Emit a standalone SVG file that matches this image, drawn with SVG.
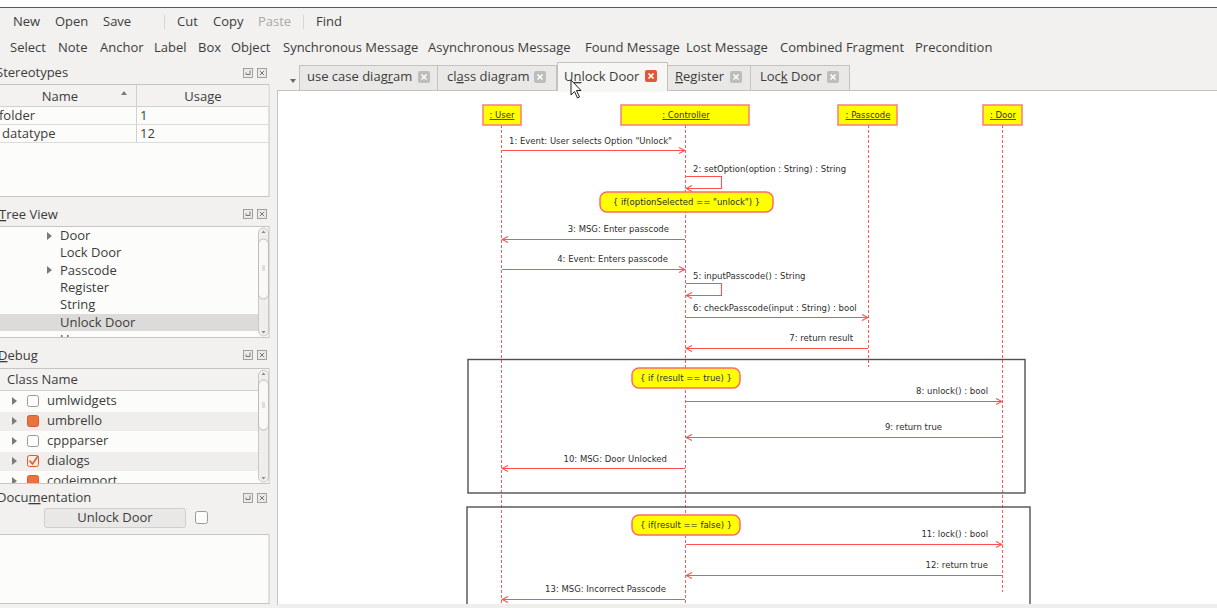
<svg xmlns="http://www.w3.org/2000/svg" width="1217" height="608" viewBox="0 0 1217 608">
<defs>
<style>
.ui{font-family:"Open Sans","DejaVu Sans",sans-serif;font-size:13px;fill:#3c3c3c}
.dim{fill:#a9a9a7}
.hd{font-family:"Open Sans","DejaVu Sans",sans-serif;font-size:13px;fill:#3c3c3c;text-anchor:middle}
.lbl{font-family:"DejaVu Sans",sans-serif;font-size:8.5px;fill:#2e2e2e}
.end{text-anchor:end}
.mid{text-anchor:middle}
.head{fill:#ffff00;stroke:#ff7b7b;stroke-width:1.5}
.htxt{font-family:"DejaVu Sans",sans-serif;font-size:8.5px;fill:#333;text-anchor:middle;text-decoration:underline}
.life{stroke:#ff5a5a;stroke-width:1;stroke-dasharray:3 2;fill:none}
.msg{stroke:#ff5050;stroke-width:1.1;fill:none}
.guard{fill:#ffff00;stroke:#ff6a6a;stroke-width:1.5}
.frag{fill:none;stroke:#505050;stroke-width:1.4}
.box{fill:#fcfcfb;stroke:#c6c5c3}
.ico{fill:#ecebe9;stroke:#8c8c8a;stroke-width:0.8}
.icl{stroke:#6a6a68;stroke-width:0.9;fill:none}
.tab{fill:#e9e8e6;stroke:#c3c2c0}
.tabx{fill:#bdbdbb}
.tri{fill:#7a7a78}
.cb{fill:#fdfdfd;stroke:#9a9a98}
.cbo{fill:#ea733d;stroke:#d35f2c}
.u{text-decoration:underline}
</style>
<marker id="open" markerWidth="8" markerHeight="8" refX="7" refY="4" orient="auto" markerUnits="userSpaceOnUse">
<path d="M1,1 L7,4 L1,7" fill="none" stroke="#ff5050" stroke-width="1.1"/>
</marker>
<clipPath id="treeClip"><rect x="0" y="227" width="258" height="110"/></clipPath>
<clipPath id="dbgClip"><rect x="0" y="391" width="258" height="92"/></clipPath>
<clipPath id="canvasClip"><rect x="278" y="91" width="939" height="513"/></clipPath>
<symbol id="dock" viewBox="0 0 24 10">
<rect class="ico" x="0.5" y="0.5" width="9" height="9"/>
<path class="icl" d="M3,6.5 h4 v-4 M3,6.5 v-2"/>
<rect class="ico" x="14.5" y="0.5" width="9" height="9"/>
<path class="icl" d="M16.8,2.8 L21.2,7.2 M21.2,2.8 L16.8,7.2"/>
</symbol>
<symbol id="xbtn" viewBox="0 0 12 12">
<rect x="0" y="0" width="12" height="12" rx="2"/>
<path d="M3.5,3.5 L8.5,8.5 M8.5,3.5 L3.5,8.5" stroke="#fff" stroke-width="1.6"/>
</symbol>
</defs>

<!-- window background -->
<rect x="0" y="0" width="1217" height="608" fill="#f2f1f0"/>
<rect x="0" y="0" width="1217" height="7" fill="#ffffff"/>
<line x1="0" y1="7.5" x2="1217" y2="7.5" stroke="#5a5a5a" stroke-width="1"/>

<!-- main toolbar -->
<g id="toolbar">
<text class="ui" x="13" y="26">New</text>
<text class="ui" x="55" y="26">Open</text>
<text class="ui" x="103" y="26">Save</text>
<line x1="164.5" y1="15" x2="164.5" y2="29" stroke="#d6d5d3"/>
<text class="ui" x="177" y="26">Cut</text>
<text class="ui" x="213" y="26">Copy</text>
<text class="ui dim" x="258" y="26">Paste</text>
<line x1="303.5" y1="15" x2="303.5" y2="29" stroke="#d6d5d3"/>
<text class="ui" x="316" y="26">Find</text>
</g>

<!-- diagram tool palette -->
<g id="palette">
<text class="ui" x="10" y="52">Select</text>
<text class="ui" x="58" y="52">Note</text>
<text class="ui" x="100" y="52">Anchor</text>
<text class="ui" x="154" y="52">Label</text>
<text class="ui" x="198" y="52">Box</text>
<text class="ui" x="231" y="52">Object</text>
<text class="ui" x="283" y="52">Synchronous Message</text>
<text class="ui" x="428" y="52">Asynchronous Message</text>
<text class="ui" x="585" y="52">Found Message</text>
<text class="ui" x="686" y="52">Lost Message</text>
<text class="ui" x="780" y="52">Combined Fragment</text>
<text class="ui" x="915" y="52">Precondition</text>
</g>

<!-- Stereotypes dock -->
<g id="stereotypes">
<text class="ui" x="-4" y="77">Stereotypes</text>
<use href="#dock" x="243" y="68" width="24" height="10"/>
<rect class="box" x="-1" y="84.5" width="270" height="112"/>
<rect x="0" y="85" width="268.5" height="21.5" fill="#f3f2f1"/>
<line x1="0" y1="106.5" x2="269" y2="106.5" stroke="#d2d1cf"/>
<line x1="136.5" y1="85" x2="136.5" y2="142" stroke="#d2d1cf"/>
<text class="hd" x="60" y="101">Name</text>
<path class="tri" d="M121,95 L127,95 L124,91 Z"/>
<text class="hd" x="203" y="101">Usage</text>
<line x1="0" y1="124.5" x2="269" y2="124.5" stroke="#dedddb"/>
<line x1="0" y1="142.5" x2="269" y2="142.5" stroke="#dedddb"/>
<text class="ui" x="-1" y="120">folder</text>
<text class="ui" x="2" y="138">datatype</text>
<text class="ui" x="140" y="120">1</text>
<text class="ui" x="140" y="138">12</text>
</g>

<!-- Tree View dock -->
<g id="treeview">
<text class="ui" x="-1" y="219"><tspan class="u">T</tspan>ree View</text>
<use href="#dock" x="243" y="209" width="24" height="10"/>
<rect class="box" x="-1" y="226.5" width="270" height="111"/>
<g clip-path="url(#treeClip)">
<rect x="0" y="314" width="258" height="17" fill="#dcdbd9"/>
<path class="tri" d="M47,232 L47,240 L52,236 Z"/>
<text class="ui" x="60" y="240">Door</text>
<text class="ui" x="60" y="257">Lock Door</text>
<path class="tri" d="M47,266 L47,274 L52,270 Z"/>
<text class="ui" x="60" y="275">Passcode</text>
<text class="ui" x="60" y="292">Register</text>
<text class="ui" x="60" y="309">String</text>
<text class="ui" x="60" y="327">Unlock Door</text>
<text class="ui" x="60" y="344">User</text>
</g>
<rect x="258.5" y="228" width="10" height="108" rx="5" fill="#efeeec" stroke="#c9c8c6"/>
<rect x="258.5" y="239" width="10" height="60" rx="5" fill="#f8f8f7" stroke="#bdbcba"/>
<path d="M261.5,233 L265.5,233 L263.5,230.5 Z" fill="#888"/>
<path d="M261.5,331 L265.5,331 L263.5,333.5 Z" fill="#888"/>
<path d="M262,266 h3 M262,268 h3 M262,270 h3" stroke="#c4c3c1"/>
</g>

<!-- Debug dock -->
<g id="debug">
<text class="ui" x="-2" y="360"><tspan class="u">D</tspan>ebug</text>
<use href="#dock" x="243" y="350" width="24" height="10"/>
<rect class="box" x="-1" y="368.5" width="270" height="115"/>
<rect x="0" y="369" width="258" height="21" fill="#f3f2f1"/>
<line x1="0" y1="390.5" x2="258" y2="390.5" stroke="#d2d1cf"/>
<text class="ui" x="7" y="384">Class Name</text>
<g clip-path="url(#dbgClip)">
<rect x="0" y="412" width="258" height="19" fill="#efeeec"/>
<rect x="0" y="452" width="258" height="19" fill="#efeeec"/>
<path class="tri" d="M12,397 L12,405 L17,401 Z"/>
<rect class="cb" x="27.5" y="395.5" width="11" height="11" rx="2"/>
<text class="ui" x="47" y="405">umlwidgets</text>
<path class="tri" d="M12,417 L12,425 L17,421 Z"/>
<rect class="cbo" x="27.5" y="415.5" width="11" height="11" rx="2"/>
<text class="ui" x="47" y="425">umbrello</text>
<path class="tri" d="M12,437 L12,445 L17,441 Z"/>
<rect class="cb" x="27.5" y="435.5" width="11" height="11" rx="2"/>
<text class="ui" x="47" y="445">cppparser</text>
<path class="tri" d="M12,457 L12,465 L17,461 Z"/>
<rect x="27.5" y="455.5" width="11" height="11" rx="2" fill="#fbeae2" stroke="#d35f2c"/>
<path d="M29.5,460.5 L32.5,464 L38,456" fill="none" stroke="#d35f2c" stroke-width="1.6"/>
<text class="ui" x="47" y="465">dialogs</text>
<path class="tri" d="M12,477 L12,485 L17,481 Z"/>
<rect class="cbo" x="27.5" y="475.5" width="11" height="11" rx="2"/>
<text class="ui" x="47" y="485">codeimport</text>
</g>
<rect x="258.5" y="370" width="10" height="112" rx="5" fill="#efeeec" stroke="#c9c8c6"/>
<rect x="258.5" y="380" width="10" height="50" rx="5" fill="#f8f8f7" stroke="#bdbcba"/>
<path d="M261.5,375 L265.5,375 L263.5,372.5 Z" fill="#888"/>
<path d="M261.5,477 L265.5,477 L263.5,479.5 Z" fill="#888"/>
<path d="M262,403 h3 M262,405 h3 M262,407 h3" stroke="#c4c3c1"/>
</g>

<!-- Documentation dock -->
<g id="documentation">
<text class="ui" x="-3" y="502">Docu<tspan class="u">m</tspan>entation</text>
<use href="#dock" x="243" y="493" width="24" height="10"/>
<rect x="44.5" y="508.5" width="141" height="19" rx="2" fill="#e9e8e6" stroke="#cfcecc"/>
<text class="hd" x="115" y="522">Unlock Door</text>
<rect class="cb" x="195.5" y="511.5" width="12" height="12" rx="2"/>
<rect class="box" x="-1" y="534.5" width="270" height="69"/>
</g>

<!-- document tabs -->
<g id="tabs">
<path d="M290,79 L296,79 L293,83 Z" fill="#6a6a68"/>
<rect class="tab" x="299.5" y="65.5" width="138" height="25"/>
<text class="ui" x="307" y="81">use case diag<tspan class="u">r</tspan>am</text>
<use href="#xbtn" x="418" y="71" width="12" height="12" class="tabx"/>
<rect class="tab" x="437.5" y="65.5" width="119" height="25"/>
<text class="ui" x="447" y="81">cl<tspan class="u">a</tspan>ss diagram</text>
<use href="#xbtn" x="534" y="71" width="12" height="12" class="tabx"/>
<rect class="tab" x="667.5" y="65.5" width="83" height="25"/>
<text class="ui" x="675" y="81"><tspan class="u">R</tspan>egister</text>
<use href="#xbtn" x="730" y="71" width="12" height="12" class="tabx"/>
<rect class="tab" x="750.5" y="65.5" width="99" height="25"/>
<text class="ui" x="760" y="81">Loc<tspan class="u">k</tspan> Door</text>
<use href="#xbtn" x="827" y="71" width="12" height="12" class="tabx"/>
<path d="M557.5,92 L557.5,62.5 L667.5,62.5 L667.5,92" fill="#f6f6f5" stroke="#c3c2c0"/>
<text class="ui" x="564" y="81">U<tspan class="u">n</tspan>lock Door</text>
<use href="#xbtn" x="645" y="70" width="12" height="12" fill="#e2573a"/>
</g>

<!-- drawing canvas -->
<rect x="277.5" y="90.5" width="940" height="514" fill="#ffffff" stroke="#c3c2c0"/>
<rect x="558" y="89" width="109" height="3" fill="#f6f6f5"/>

<g clip-path="url(#canvasClip)">
<!-- lifelines (dashed) -->
<g id="lifelines">
<line class="life" x1="501.5" y1="125" x2="501.5" y2="604"/>
<line class="life" x1="685.5" y1="125" x2="685.5" y2="604"/>
<line class="life" x1="868.5" y1="125" x2="868.5" y2="367"/>
<line class="life" x1="1002.5" y1="125" x2="1002.5" y2="592"/>
</g>

<!-- combined fragments -->
<g id="fragments">
<rect class="frag" x="468" y="359.5" width="557" height="133.5"/>
<rect class="frag" x="467" y="507" width="563" height="110"/>
</g>

<!-- objects -->
<g id="obj-user">
<rect class="head" x="483" y="105" width="38" height="20"/>
<text class="htxt" x="502" y="118">: User</text>
</g>
<g id="obj-controller">
<rect class="head" x="621" y="105" width="128" height="20"/>
<text class="htxt" x="686" y="118">: Controller</text>
</g>
<g id="obj-passcode">
<rect class="head" x="838" y="105" width="59" height="20"/>
<text class="htxt" x="868" y="118">: Passcode</text>
</g>
<g id="obj-door">
<rect class="head" x="983" y="105" width="39" height="20"/>
<text class="htxt" x="1003" y="118">: Door</text>
</g>

<!-- guard conditions -->
<g id="guard-option">
<rect class="guard" x="600" y="192" width="173" height="20" rx="7"/>
<text class="lbl mid" x="686.5" y="205">{ if(optionSelected == "unlock") }</text>
</g>
<g id="guard-true">
<rect class="guard" x="632" y="368" width="108" height="20" rx="7"/>
<text class="lbl mid" x="686" y="381">{ if (result == true) }</text>
</g>
<g id="guard-false">
<rect class="guard" x="632" y="515" width="108" height="20" rx="7"/>
<text class="lbl mid" x="686" y="528">{ if(result == false) }</text>
</g>

<!-- messages -->
<g id="messages">
<line class="msg" x1="502" y1="150.5" x2="685" y2="150.5" marker-end="url(#open)"/>
<path class="msg" d="M686,176.5 H721.5 V188.5 H686" marker-end="url(#open)"/>
<line class="msg" x1="685" y1="239.5" x2="502" y2="239.5" marker-end="url(#open)"/>
<line class="msg" x1="502" y1="269.5" x2="685" y2="269.5" marker-end="url(#open)"/>
<path class="msg" d="M686,283.5 H721.5 V295.5 H686" marker-end="url(#open)"/>
<line class="msg" x1="686" y1="317.5" x2="868" y2="317.5" marker-end="url(#open)"/>
<line class="msg" x1="868" y1="348.5" x2="686" y2="348.5" marker-end="url(#open)"/>
<line class="msg" x1="686" y1="401.5" x2="1002" y2="401.5" marker-end="url(#open)"/>
<line class="msg" x1="1002" y1="437.5" x2="686" y2="437.5" marker-end="url(#open)"/>
<line class="msg" x1="685" y1="468.5" x2="502" y2="468.5" marker-end="url(#open)"/>
<line class="msg" x1="686" y1="544.5" x2="1002" y2="544.5" marker-end="url(#open)"/>
<line class="msg" x1="1002" y1="575.5" x2="686" y2="575.5" marker-end="url(#open)"/>
<line class="msg" x1="685" y1="599.5" x2="502" y2="599.5" marker-end="url(#open)"/>
</g>

<!-- message labels -->
<g id="message-labels">
<text class="lbl" x="509" y="144">1: Event: User selects Option "Unlock"</text>
<text class="lbl" x="693" y="172">2: setOption(option : String) : String</text>
<text class="lbl end" x="669" y="232">3: MSG: Enter passcode</text>
<text class="lbl end" x="668" y="262">4: Event: Enters passcode</text>
<text class="lbl" x="693" y="279">5: inputPasscode() : String</text>
<text class="lbl" x="693" y="311">6: checkPasscode(input : String) : bool</text>
<text class="lbl end" x="853" y="341">7: return result</text>
<text class="lbl end" x="988" y="394">8: unlock() : bool</text>
<text class="lbl end" x="942" y="430">9: return true</text>
<text class="lbl end" x="667" y="462">10: MSG: Door Unlocked</text>
<text class="lbl end" x="988" y="537">11: lock() : bool</text>
<text class="lbl end" x="988" y="568">12: return true</text>
<text class="lbl end" x="666" y="592">13: MSG: Incorrect Passcode</text>
</g>
</g>

<!-- bottom edge of the canvas viewport -->
<rect x="278" y="604" width="939" height="4" fill="#efeeed"/>

<!-- mouse pointer -->
<path d="M571,80 L571,95 L574.5,91.5 L577.5,98 L579.5,97 L576.5,90.5 L581,90.5 Z" fill="#ffffff" stroke="#222" stroke-width="1" stroke-linejoin="round"/>
</svg>
